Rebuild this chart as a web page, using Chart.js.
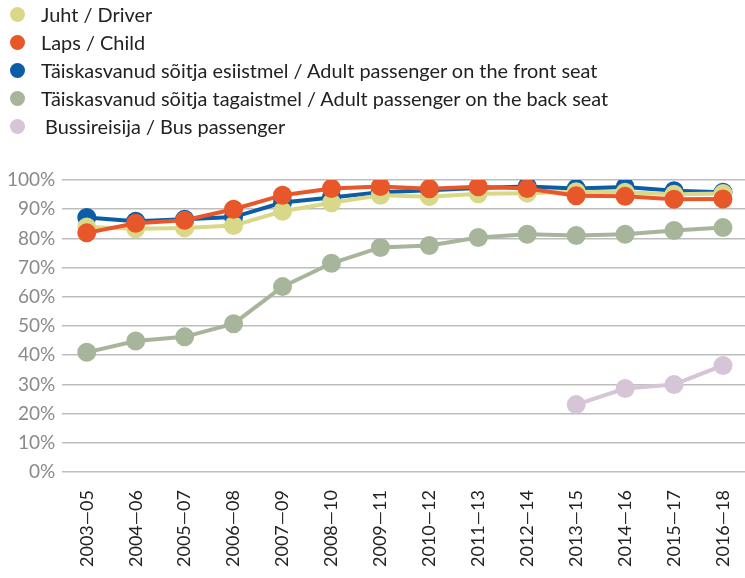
<!DOCTYPE html>
<html>
<head>
<meta charset="utf-8">
<script src="https://cdn.jsdelivr.net/npm/chart.js@4.4.0/dist/chart.umd.min.js"></script>
<style>
  html, body { margin: 0; padding: 0; background: #fff; overflow: hidden; }
  #wrap { position: relative; width: 745px; height: 578px; overflow: hidden; }
  #legend { position: absolute; left: 10px; top: 0px; font-family: Lato, "Open Sans", sans-serif; font-size: 19.9px; color: #222; }
  .li { height: 28px; display: flex; align-items: center; }
  .dot { width: 15px; height: 15px; border-radius: 50%; margin-right: 16px; display: inline-block; flex: none; }
  canvas { position: absolute; left: 0; top: 0; }
</style>
</head>
<body>
<div id="wrap">
  <canvas id="c" width="763" height="585"></canvas>
  <div id="legend"></div>
</div>
<script>
const categories = ["2003—05","2004—06","2005—07","2006—08","2007—09","2008—10","2009—11","2010—12","2011—13","2012—14","2013—15","2014—16","2015—17","2016—18"];
const seriesLabels = [
  "Juht / Driver",
  "Laps / Child",
  "Täiskasvanud sõitja esiistmel / Adult passenger on the front seat",
  "Täiskasvanud sõitja tagaistmel / Adult passenger on the back seat",
  "Bussireisija / Bus passenger"
];
const driver = [83.9, 83.3, 83.6, 84.4, 89.3, 92.2, 94.8, 94.3, 95.3, 95.5, 96.0, 95.8, 95.1, 95.4];
const child = [81.9, 85.2, 86.2, 90.0, 94.8, 97.1, 97.8, 97.0, 97.7, 97.1, 94.6, 94.4, 93.4, 93.5];
const frontSeat = [87.2, 85.9, 86.6, 87.3, 92.3, 94.0, 95.8, 96.5, 97.3, 97.8, 97.1, 97.6, 96.3, 95.8];
const backSeat = [41.0, 44.9, 46.3, 50.8, 63.5, 71.5, 76.9, 77.6, 80.3, 81.4, 81.0, 81.4, 82.7, 83.7];
const bus = [null, null, null, null, null, null, null, null, null, null, 23.1, 28.6, 30.0, 36.5];
const yTicks = [0, 10, 20, 30, 40, 50, 60, 70, 80, 90, 100];

const colors = ["#d8d888", "#e8572a", "#0a5da6", "#a7b59b", "#d5c5d7"];
const values = [driver, child, frontSeat, backSeat, bus];
const drawOrder = [2, 1, 3, 4, 5];

const legend = document.getElementById('legend');
seriesLabels.forEach((l, i) => {
  const d = document.createElement('div');
  d.className = 'li';
  const extra = i === 4 ? 'margin-left:4px;' : '';
  d.innerHTML = '<span class="dot" style="background:' + colors[i] + '"></span><span style="' + extra + '">' + l + '</span>';
  legend.appendChild(d);
});

new Chart(document.getElementById('c'), {
  type: 'line',
  data: {
    labels: categories,
    datasets: values.map((v, i) => ({
      label: seriesLabels[i],
      data: v,
      borderColor: colors[i],
      backgroundColor: colors[i],
      pointBackgroundColor: colors[i],
      pointBorderColor: colors[i],
      borderWidth: 4,
      pointRadius: 7.5,
      pointHoverRadius: 7.5,
      tension: 0,
      spanGaps: false,
      order: drawOrder[i]
    }))
  },
  options: {
    responsive: false,
    animation: false,
    layout: { padding: { top: 180, right: 0, left: 0, bottom: 0 } },
    plugins: { legend: { display: false }, tooltip: { enabled: false } },
    scales: {
      x: {
        offset: true,
        grid: { display: false, drawTicks: false },
        border: { display: false },
        ticks: {
          minRotation: 90, maxRotation: 90, padding: 18,
          color: '#222', font: { family: 'Lato, "Open Sans", sans-serif', size: 18 }
        }
      },
      y: {
        min: 0, max: 100,
        afterBuildTicks: (s) => { s.ticks = yTicks.map(v => ({ value: v })); },
        grid: { color: '#bdbdbd', lineWidth: 1.5, drawTicks: false },
        border: { display: false },
        ticks: {
          padding: 7,
          color: '#8a8a8a', font: { family: 'Lato, "Open Sans", sans-serif', size: 19 },
          callback: (v) => v + '%'
        }
      }
    }
  }
});
</script>
</body>
</html>
